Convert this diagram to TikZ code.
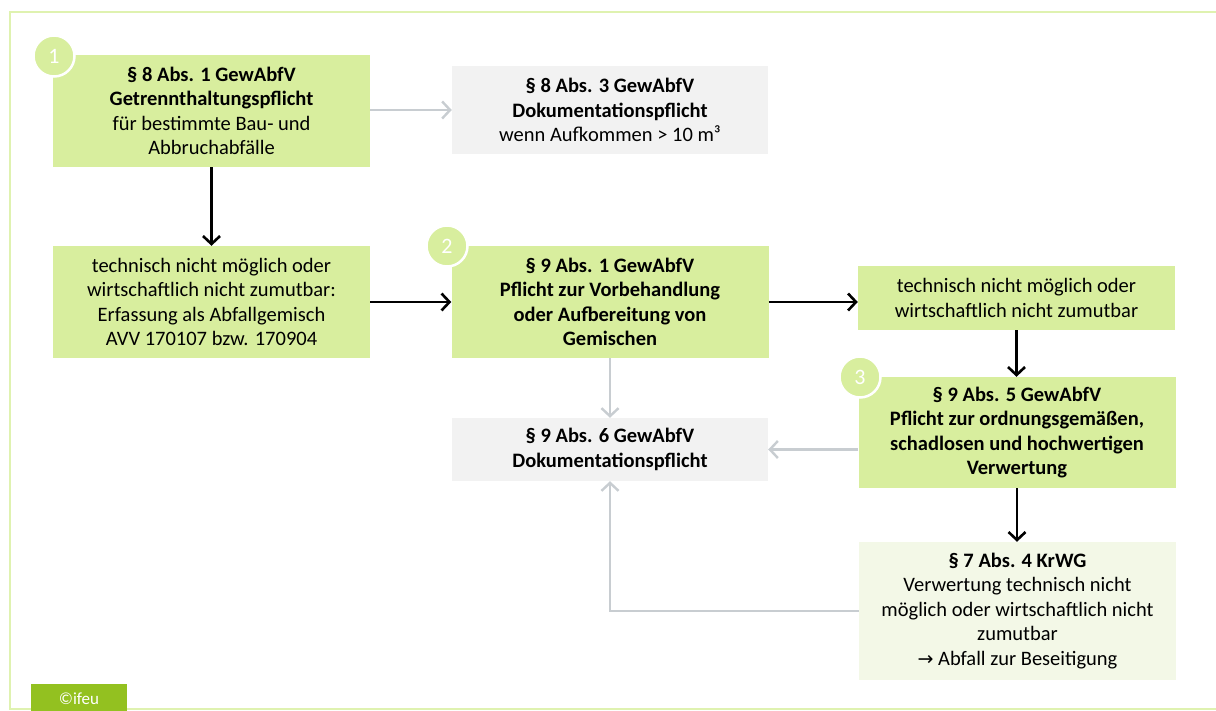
\documentclass[tikz,border=0pt]{standalone}
\usepackage{fontspec}
\setmainfont{Carlito}
\newfontfamily\symfont{DejaVu Sans}
\usetikzlibrary{arrows.meta}
\definecolor{boxgreen}{HTML}{D8EE9E}
\definecolor{boxgray}{HTML}{F2F2F2}
\definecolor{boxlight}{HTML}{F3F8E7}
\definecolor{framegreen}{HTML}{DFF2B0}
\definecolor{ifeugreen}{HTML}{93C120}
\definecolor{arrgray}{HTML}{C8CDD1}
\tikzset{
  txt/.style={font=\fontsize{20.5}{24.5}\selectfont, align=center, text=black, inner sep=0pt},
  gbox/.style={txt, fill=boxgreen, minimum width=317pt},
  graybox/.style={txt, fill=boxgray, minimum width=316pt},
  lbox/.style={txt, fill=boxlight, minimum width=317pt},
  num/.style={circle, fill=boxgreen, draw=white, line width=2.5pt, minimum size=41pt, inner sep=0pt, text=white, font=\fontsize{22}{24}\selectfont},
  blk/.style={draw=black, line width=2.8pt, -{Straight Barb[length=8pt,width=17pt,line width=2.6pt]}},
  gry/.style={draw=arrgray, line width=2.4pt, -{Straight Barb[length=8pt,width=17pt,line width=2.4pt]}},
}
\begin{document}
\begin{tikzpicture}[x=1pt,y=-1pt]
\clip (0,0) rectangle (1216,711);
\fill[white] (0,0) rectangle (1216,711);
% frame
\draw[framegreen, line width=2.5pt] (1220,12) -- (10,12) -- (10,709) -- (1220,709);
% ifeu label
\fill[ifeugreen] (31,684) rectangle (127,715);
\node[font=\fontsize{17}{20}\selectfont, text=white, inner sep=0pt] (ifeu) at (79,699) {©ifeu};

% boxes
\node[gbox, minimum height=112pt] (b1) at (211.5,111) {\textbf{§ 8 Abs. 1 GewAbfV}\\\textbf{Getrennthaltungspflicht}\\für bestimmte Bau- und\\Abbruchabfälle};
\node[graybox, minimum height=88pt] (g1) at (610,110) {\textbf{§ 8 Abs. 3 GewAbfV}\\\textbf{Dokumentationspflicht}\\wenn Aufkommen > 10 m³};
\node[gbox, minimum height=112pt] (b2) at (211.5,302) {technisch nicht möglich oder\\wirtschaftlich nicht zumutbar:\\Erfassung als Abfallgemisch\\AVV 170107 bzw. 170904};
\node[gbox, minimum height=112pt] (c) at (610,302) {\textbf{§ 9 Abs. 1 GewAbfV}\\\textbf{Pflicht zur Vorbehandlung}\\\textbf{oder Aufbereitung von}\\\textbf{Gemischen}};
\node[gbox, minimum height=64pt] (r) at (1016.5,298) {technisch nicht möglich oder\\wirtschaftlich nicht zumutbar};
\node[gbox, minimum height=111pt] (b3) at (1017,432.5) {\textbf{§ 9 Abs. 5 GewAbfV}\\\textbf{Pflicht zur ordnungsgemäßen,}\\\textbf{schadlosen und hochwertigen}\\\textbf{Verwertung}};
\node[graybox, minimum height=63pt] (g2) at (610,449.5) {\textbf{§ 9 Abs. 6 GewAbfV}\\\textbf{Dokumentationspflicht}};
\node[lbox, minimum height=138pt] (l) at (1017.5,611) {\textbf{§ 7 Abs. 4 KrWG}\\Verwertung technisch nicht\\möglich oder wirtschaftlich nicht\\zumutbar\\{\symfont\fontsize{19}{20}\selectfont →} Abfall zur Beseitigung};

% number circles
\node[num] (n1) at (54,56) {1};
\node[num] (n2) at (447,246) {2};
\node[num] (n3) at (860,377) {3};

% arrows
\draw[gry] (b1.east |- g1.west) -- (g1.west);
\draw[blk] (b1.south) -- (b1.south |- b2.north);
\draw[blk] (b2.east) -- (c.west |- b2.east);
\draw[blk] (c.east) -- (r.west |- c.east);
\draw[blk] (r.south) -- (r.south |- b3.north);
\draw[blk] (b3.south) -- (b3.south |- l.north);
\draw[gry] (c.south) -- (g2.north);
\draw[gry] (b3.west |- g2.east) -- (g2.east);
\coordinate (k) at (g2.south |- l.west);
\draw[gry] (l.west) -- (k) -- (g2.south);
\end{tikzpicture}
\end{document}
